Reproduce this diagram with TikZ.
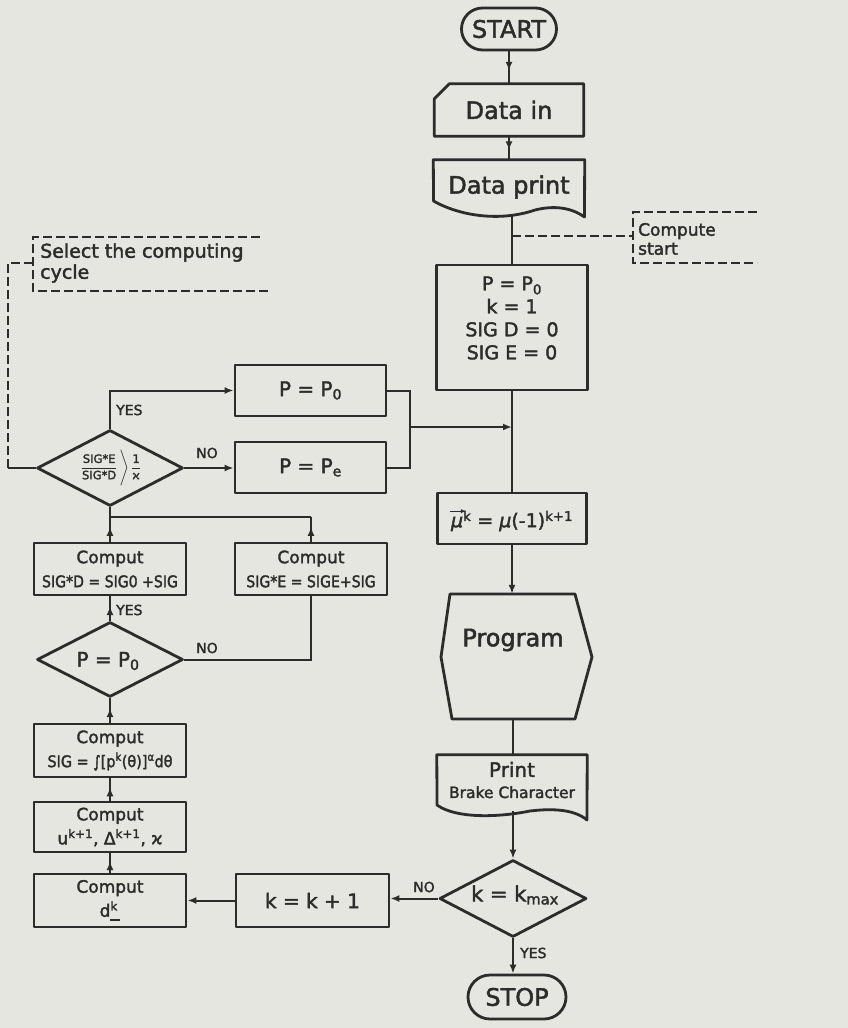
\documentclass[tikz,border=0pt]{standalone}
\usepackage{fontspec}
\setmainfont{DejaVu Sans}[FakeBold=2]
\usepackage{amsmath}
\usepackage{graphicx}
\usetikzlibrary{arrows.meta,decorations.markings,calc,shapes.geometric}
\definecolor{ink}{RGB}{44,44,42}
\definecolor{paper}{RGB}{229,230,224}
\newcommand{\fsz}[2]{\fontsize{#1}{#2}\selectfont}
\tikzset{
  shp/.style={draw=ink, line width=2.8pt, line join=round},
  boxn/.style={shp, rectangle, inner sep=0pt, align=center, text=ink},
  term/.style={boxn, rounded corners=21pt},
  hidden/.style={rectangle, inner sep=0pt, align=center, text=ink},
  dia/.style={shp, diamond, inner sep=0pt},
  txt/.style={text=ink, align=center, inner sep=0pt},
  conn/.style={draw=ink, line width=2pt},
  arr/.style={conn, -{Latex[length=9pt,width=7pt]}},
  midarrow/.style={conn, postaction={decorate},
    decoration={markings, mark=at position 0.6 with {\arrow{Latex[length=9pt,width=7pt]}}}},
  dsh/.style={draw=ink, line width=2pt, dash pattern=on 9pt off 4pt},
  lbl/.style={text=ink, font=\fsz{14}{16}, inner sep=1pt},
}
\begin{document}
\begin{tikzpicture}[x=1pt,y=-1pt]
\fill[paper] (0,0) rectangle (848,1028);
\useasboundingbox (0,0) rectangle (848,1028);

% ---------- main column ----------
\node[term, minimum width=95pt, minimum height=42pt, font=\fsz{24}{28}] (start) at (509,29) {START};

\node[hidden, minimum width=149pt, minimum height=52pt, font=\fsz{24}{28}] (din) at (509,110) {Data in};
\draw[shp] ([yshift=-15pt]din.north west) -- ([xshift=15pt]din.north west) -- (din.north east) -- (din.south east) -- (din.south west) -- cycle;

\node[hidden, minimum width=151pt, minimum height=54pt, font=\fsz{24}{28}] (dpr) at (509,187) {\raisebox{4pt}{Data print}};
\draw[shp] (dpr.north west) -- (dpr.north east) -- (584.5,217) .. controls (572,208) and (555,205) .. (535,210) .. controls (500,222) and (460,216) .. (433.5,201) -- cycle;

\node[boxn, minimum width=151pt, minimum height=125pt] (init) at (512,327.5) {};
\node[txt, font=\fsz{19}{23}] (inittxt) at (512,318) {P = P\textsubscript{0}\\k = 1\\SIG D = 0\\SIG E = 0};

\node[boxn, minimum width=149pt, minimum height=51pt] (mu) at (512,518.5) {};
\node[txt, font=\fsz{19}{23}] (mutxt) at (512,521) {\textit{μ}\textsuperscript{k} = \textit{μ}(-1)\textsuperscript{k+1}};
\draw[draw=ink, line width=1.4pt, -{Latex[length=5pt,width=4.5pt]}] ([xshift=-1pt,yshift=16pt]mutxt.base west) -- ([xshift=15pt,yshift=16pt]mutxt.base west);

\node[hidden, minimum width=152pt, minimum height=125pt] (prog) at (513,656.5) {};
\draw[shp] (450,594) -- (575,594) -- (592,657) -- (575,719) -- (452,719) -- (441,657) -- cycle;
\node[txt, font=\fsz{24}{28}] (progtxt) at (513,640) {Program};

\node[hidden, minimum width=150pt, minimum height=56pt] (prnt) at (512,783) {};
\draw[shp] (prnt.north west) -- (prnt.north east) -- (587,820) .. controls (575,810) and (555,808) .. (530,811) .. controls (495,818) and (455,818) .. (437,805) -- cycle;
\node[txt, font=\fsz{20}{21}] (prnttxt) at (512,780) {Print\\{\fsz{15.5}{18}Brake Character}};

\node[dia, minimum width=147pt, minimum height=77pt] (kd) at (513,898.5) {};
\node[txt, font=\fsz{21}{24}] (kdtxt) at (515,895) {k = k\textsubscript{max}};

\node[term, minimum width=98pt, minimum height=44pt, rounded corners=22pt, font=\fsz{24}{28}] (stop) at (517,997) {STOP};

% ---------- left / middle columns ----------
\node[boxn, minimum width=153pt, minimum height=53pt, font=\fsz{20}{24}] (kinc) at (312.5,900.5) {k = k + 1};
\node[boxn, minimum width=152pt, minimum height=53pt, font=\fsz{17}{24}] (cd) at (110,900.5) {Comput\\d$^{\text{k}}_{\rule{0.55em}{0.09em}}$};
\node[boxn, minimum width=152pt, minimum height=50pt, font=\fsz{17}{24}] (cu) at (110,827) {Comput\\u\textsuperscript{k+1}, Δ\textsuperscript{k+1}, ϰ};
\node[boxn, minimum width=152pt, minimum height=53pt, font=\fsz{17}{24}] (csig) at (110,750.5) {Comput\\{\fsz{16}{24}\scalebox{0.9}[1]{SIG = ∫[p\textsuperscript{k}(θ)]\textsuperscript{α}dθ}}};
\node[dia, minimum width=146pt, minimum height=75pt] (pd) at (110,659.5) {};
\node[txt, font=\fsz{20}{24}] (pdtxt) at (108,661) {P = P\textsubscript{0}};
\node[boxn, minimum width=152pt, minimum height=52pt, font=\fsz{17}{24}] (csd) at (110,569) {Comput\\{\fsz{16}{24}\scalebox{0.88}[1]{SIG*D = SIG0 +SIG}}};
\node[boxn, minimum width=152pt, minimum height=52pt, font=\fsz{17}{24}] (cse) at (311,569) {Comput\\{\fsz{16}{24}\scalebox{0.88}[1]{SIG*E = SIGE+SIG}}};
\node[dia, minimum width=146pt, minimum height=76pt] (sd) at (110,468) {};
\node[txt, font=\fsz{11.5}{13}] (sdtxt) at (111,468) {$\dfrac{\text{SIG*E}}{\text{SIG*D}}\,\Bigg\rangle\,\dfrac{\text{1}}{\text{ϰ}}$};
\node[boxn, minimum width=151pt, minimum height=51pt, font=\fsz{20}{24}] (pp0) at (310.5,390.5) {P = P\textsubscript{0}};
\node[boxn, minimum width=151pt, minimum height=51pt, font=\fsz{20}{24}] (ppe) at (310.5,467.5) {P = P\textsubscript{e}};

% ---------- annotations ----------
\coordinate (csj) at (512,236);
\coordinate (csb) at (633,236);
\draw[dsh] (csj) -- (csb);
\draw[dsh] (757,212) -- (633,212) -- (633,263) -- (757,263);
\node[txt, anchor=west, align=left, font=\fsz{17}{19}] (cstxt) at (638,239) {Compute\\start};

\draw[dsh] (260,237) -- (33,237) -- (33,291) -- (270,291);
\node[txt, anchor=west, align=left, font=\fsz{19}{21}] (seltxt) at (40,263) {Select the computing\\cycle};
\coordinate (sa) at (8,263);
\coordinate (sb) at (33,263);
\coordinate (sc) at (8,468);
\draw[conn] (sd.west) -- (sc);
\draw[dsh] (sc) -- (sa) -- (sb);

% ---------- connectors ----------
\draw[midarrow] (start.south) -- (din.north);
\draw[midarrow] (din.south) -- (dpr.north);
\coordinate (dpb) at (512,215);
\draw[conn] (dpb) -- (init.north);
\draw[conn] (init.south) -- (init.south |- mu.north);
\draw[arr] (mu.south) -- (mu.south |- prog.north);
\draw[conn] (prog.south) -- (prog.south |- prnt.north);
\draw[arr] (kd.north |- prnt.south) -- (kd.north);
\draw[arr] (kd.south) -- (kd.south |- stop.north);
\node[lbl, anchor=west] (yes3) at (519,953) {YES};
\draw[arr] (kd.west) -- (kd.west -| kinc.east);
\node[lbl] (no3) at (424,887) {NO};
\draw[arr] (kinc.west) -- (kinc.west -| cd.east);
\draw[midarrow] (cd.north) -- (cu.south);
\draw[midarrow] (cu.north) -- (csig.south);
\draw[midarrow] (csig.north) -- (pd.south);
\draw[midarrow] (pd.north) -- (csd.south);
\node[lbl, anchor=west] (yes2) at (115,610) {YES};
\draw[conn] (pd.east) -| (cse.south);
\node[lbl] (no2) at (207,648) {NO};
\coordinate (sj) at (110,517);
\draw[midarrow] (csd.north) -- (sj);
\draw[midarrow] (cse.north) -- (cse.north |- sj);
\draw[conn] (cse.north |- sj) -- (sj) -- (sd.south);
\draw[arr] (sd.north) |- (pp0.west);
\node[lbl, anchor=west] (yes1) at (115,410) {YES};
\draw[arr] (sd.east) -- (sd.east -| ppe.west);
\node[lbl] (no1) at (207,453) {NO};
\coordinate (pj) at (410,427);
\draw[conn] (pp0.east) -| (pj);
\draw[conn] (ppe.east) -| (pj);
\draw[arr] (pj) -- (pj -| mu.north);
\end{tikzpicture}
\end{document}
